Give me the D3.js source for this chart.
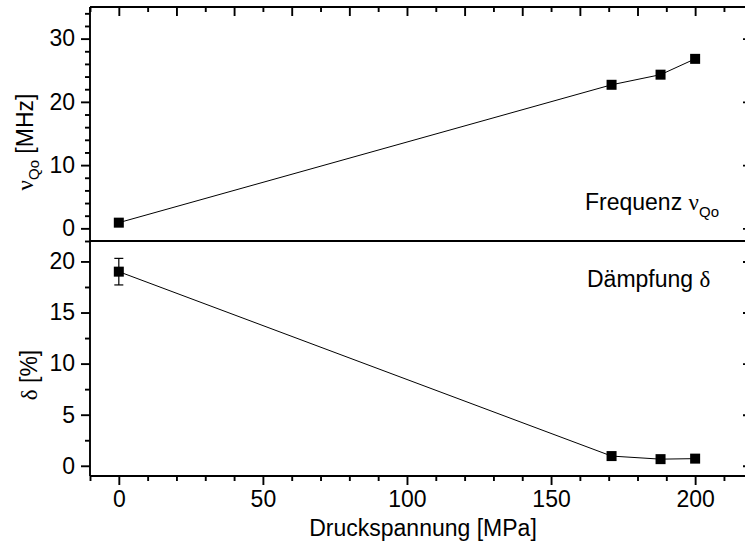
<!DOCTYPE html>
<html>
<head>
<meta charset="utf-8">
<script src="https://cdn.jsdelivr.net/npm/d3@7"></script>
<style>
  html, body { margin: 0; padding: 0; background: #fff; }
  svg { display: block; }
  text { font-family: "Liberation Sans", Arial, sans-serif; fill: #000; }
  .greek { font-family: "Liberation Serif", "Times New Roman", serif; }
</style>
</head>
<body>
<div id="chart"></div>
<script>
const stress = [0, 171, 188, 200];            // Druckspannung [MPa]
const freq = [0.9, 22.7, 24.3, 26.8];         // nu_Qo [MHz]
const damping = [19.0, 0.95, 0.65, 0.7];      // delta [%]
const dampingErr = [1.3, 0, 0, 0];

const xMajor = [0, 50, 100, 150, 200];
const topMajor = [0, 10, 20, 30];
const botMajor = [0, 5, 10, 15, 20];

const width = 745, height = 543;
const fontSize = 23;

const svg = d3.select('#chart').append('svg')
    .attr('width', width)
    .attr('height', height);

// Scales — both panels share one x axis
const x = d3.scaleLinear().domain([-10, 218]).range([90, 747]);
const yTop = d3.scaleLinear().domain([-2, 35]).range([241, 7]);
const yBot = d3.scaleLinear().domain([-1, 22]).range([476, 241]);

const frameW = 1.9;

// helper: draw axis, strip domain line, style ticks
function drawAxis(axis, tx, ty, labels) {
    const g = svg.append('g')
        .attr('transform', `translate(${tx},${ty})`)
        .call(axis);
    g.select('.domain').remove();
    g.selectAll('.tick line').attr('stroke', '#000').attr('stroke-width', frameW);
    if (labels) {
        g.selectAll('.tick text')
            .attr('font-size', fontSize)
            .attr('font-family', '"Liberation Sans", Arial, sans-serif')
            .attr('fill', '#000');
    } else {
        g.selectAll('.tick text').remove();
    }
    return g;
}

// Bottom x axis (outward)
drawAxis(d3.axisBottom(x).tickValues(xMajor).tickSize(9).tickPadding(6).tickFormat(d3.format('d')), 0, 476, true);
drawAxis(d3.axisBottom(x).tickValues(d3.range(-10, 218, 10).filter(v => v % 50 !== 0)).tickSize(5), 0, 476, false);

// Top x axis (inward), majors every 20
drawAxis(d3.axisBottom(x).tickValues(d3.range(0, 218, 20)).tickSize(9), 0, 7, false);
drawAxis(d3.axisBottom(x).tickValues(d3.range(-10, 218, 20)).tickSize(5), 0, 7, false);

// Left axis, upper panel
drawAxis(d3.axisLeft(yTop).tickValues(topMajor).tickSize(9).tickPadding(6), 90, 0, true);
drawAxis(d3.axisLeft(yTop).tickValues(d3.range(-2, 35, 2).filter(v => v % 10 !== 0)).tickSize(5), 90, 0, false);

// Left axis, lower panel
drawAxis(d3.axisLeft(yBot).tickValues(botMajor).tickSize(9).tickPadding(6), 90, 0, true);
drawAxis(d3.axisLeft(yBot).tickValues([2.5, 7.5, 12.5, 17.5]).tickSize(5), 90, 0, false);

// Right side, inward short ticks at majors
drawAxis(d3.axisRight(yTop).tickValues(topMajor).tickSize(4), 747, 0, false)
    .selectAll('.tick line').attr('x2', -4);
drawAxis(d3.axisRight(yBot).tickValues(botMajor).tickSize(4), 747, 0, false)
    .selectAll('.tick line').attr('x2', -4);

// Frame lines
const frame = svg.append('g').attr('stroke', '#000').attr('stroke-width', frameW);
frame.append('line').attr('x1', 90).attr('x2', 747).attr('y1', 7).attr('y2', 7);
frame.append('line').attr('x1', 90).attr('x2', 747).attr('y1', 476).attr('y2', 476);
frame.append('line').attr('x1', 90).attr('x2', 90).attr('y1', 7).attr('y2', 476);
frame.append('line').attr('x1', 90).attr('x2', 747).attr('y1', 241).attr('y2', 241)
    .attr('stroke-width', 2.2);

// Data series
const topPts = stress.map((s, i) => ({ x: s, y: freq[i] }));
const botPts = stress.map((s, i) => ({ x: s, y: damping[i], e: dampingErr[i] }));

const lineTop = d3.line().x(d => x(d.x)).y(d => yTop(d.y));
const lineBot = d3.line().x(d => x(d.x)).y(d => yBot(d.y));

svg.append('path').datum(topPts)
    .attr('d', lineTop).attr('fill', 'none')
    .attr('stroke', '#000').attr('stroke-width', 1);
svg.append('path').datum(botPts)
    .attr('d', lineBot).attr('fill', 'none')
    .attr('stroke', '#000').attr('stroke-width', 1);

// Error bars (lower panel)
const eb = svg.append('g').attr('stroke', '#000').attr('stroke-width', 1.2);
botPts.filter(d => d.e > 0).forEach(d => {
    const cx = x(d.x);
    eb.append('line').attr('x1', cx).attr('x2', cx)
        .attr('y1', yBot(d.y + d.e)).attr('y2', yBot(d.y - d.e));
    eb.append('line').attr('x1', cx - 4.5).attr('x2', cx + 4.5)
        .attr('y1', yBot(d.y + d.e)).attr('y2', yBot(d.y + d.e));
    eb.append('line').attr('x1', cx - 4.5).attr('x2', cx + 4.5)
        .attr('y1', yBot(d.y - d.e)).attr('y2', yBot(d.y - d.e));
});

// Square markers
const ms = 10;
svg.append('g').selectAll('rect').data(topPts).join('rect')
    .attr('x', d => x(d.x) - ms / 2).attr('y', d => yTop(d.y) - ms / 2)
    .attr('width', ms).attr('height', ms).attr('fill', '#000');
svg.append('g').selectAll('rect').data(botPts).join('rect')
    .attr('x', d => x(d.x) - ms / 2).attr('y', d => yBot(d.y) - ms / 2)
    .attr('width', ms).attr('height', ms).attr('fill', '#000');

// Axis titles
svg.append('text')
    .attr('x', 423).attr('y', 536)
    .attr('text-anchor', 'middle')
    .attr('font-size', fontSize)
    .text('Druckspannung [MPa]');

const t1 = svg.append('text')
    .attr('transform', 'translate(33,142) rotate(-90)')
    .attr('text-anchor', 'middle')
    .attr('font-size', fontSize);
t1.append('tspan').attr('class', 'greek').text('ν');
t1.append('tspan').attr('font-size', 15).attr('dy', 6).text('Qo');
t1.append('tspan').attr('dy', -6).text(' [MHz]');

const t2 = svg.append('text')
    .attr('transform', 'translate(37,375) rotate(-90)')
    .attr('text-anchor', 'middle')
    .attr('font-size', fontSize);
t2.append('tspan').attr('class', 'greek').text('δ');
t2.append('tspan').text(' [%]');

// Panel annotations
const a1 = svg.append('text')
    .attr('x', 585).attr('y', 210)
    .attr('font-size', fontSize);
a1.append('tspan').text('Frequenz ');
a1.append('tspan').attr('class', 'greek').text('ν');
a1.append('tspan').attr('font-size', 15).attr('dy', 7).text('Qo');

const a2 = svg.append('text')
    .attr('x', 587).attr('y', 287)
    .attr('font-size', fontSize);
a2.append('tspan').text('Dämpfung ');
a2.append('tspan').attr('class', 'greek').text('δ');
</script>
</body>
</html>
